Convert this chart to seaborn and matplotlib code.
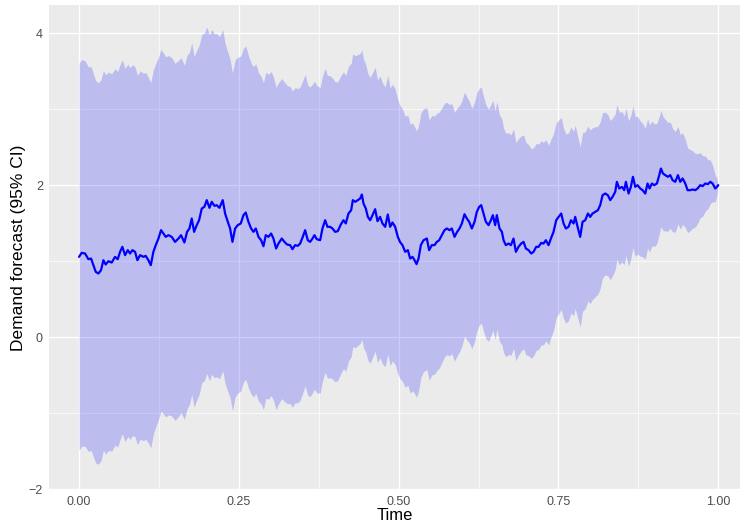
import numpy as np
import pandas as pd
import seaborn as sns
import matplotlib
matplotlib.use("Agg")
import matplotlib.pyplot as plt
from matplotlib.ticker import MultipleLocator, FixedLocator

# ---------------- data ----------------
time = [
    0.0000, 0.0042, 0.0094, 0.0146, 0.0188, 0.0224, 0.0261, 0.0303, 0.0344, 0.0381,
    0.0417, 0.0459, 0.0511, 0.0563, 0.0605, 0.0642, 0.0678, 0.0720, 0.0762, 0.0798,
    0.0835, 0.0876, 0.0913, 0.0955, 0.1007, 0.1043, 0.1085, 0.1122, 0.1163, 0.1200,
    0.1242, 0.1283, 0.1320, 0.1356, 0.1398, 0.1450, 0.1502, 0.1555, 0.1596, 0.1648,
    0.1690, 0.1727, 0.1763, 0.1800, 0.1841, 0.1878, 0.1920, 0.1961, 0.1998, 0.2040,
    0.2076, 0.2118, 0.2154, 0.2196, 0.2248, 0.2285, 0.2327, 0.2363, 0.2400, 0.2441,
    0.2483, 0.2530, 0.2572, 0.2608, 0.2650, 0.2692, 0.2728, 0.2765, 0.2807, 0.2848,
    0.2885, 0.2921, 0.2963, 0.3005, 0.3041, 0.3083, 0.3119, 0.3172, 0.3213, 0.3255,
    0.3302, 0.3339, 0.3380, 0.3422, 0.3459, 0.3500, 0.3537, 0.3578, 0.3615, 0.3652,
    0.3683, 0.3719, 0.3772, 0.3808, 0.3850, 0.3886, 0.3928, 0.3965, 0.4006, 0.4048,
    0.4095, 0.4137, 0.4173, 0.4215, 0.4257, 0.4283, 0.4319, 0.4361, 0.4398, 0.4424,
    0.4450, 0.4486, 0.4518, 0.4554, 0.4591, 0.4632, 0.4669, 0.4710, 0.4747, 0.4789,
    0.4830, 0.4867, 0.4903, 0.4945, 0.4987, 0.5023, 0.5060, 0.5102, 0.5144, 0.5180,
    0.5217, 0.5249, 0.5280, 0.5311, 0.5347, 0.5389, 0.5441, 0.5477, 0.5519, 0.5561,
    0.5597, 0.5634, 0.5676, 0.5717, 0.5754, 0.5796, 0.5832, 0.5874, 0.5915, 0.5952,
    0.5989, 0.6030, 0.6067, 0.6103, 0.6145, 0.6187, 0.6223, 0.6260, 0.6291, 0.6327,
    0.6364, 0.6406, 0.6443, 0.6474, 0.6510, 0.6536, 0.6578, 0.6615, 0.6641, 0.6677,
    0.6719, 0.6756, 0.6797, 0.6834, 0.6875, 0.6917, 0.6954, 0.6990, 0.7032, 0.7074,
    0.7110, 0.7152, 0.7189, 0.7230, 0.7267, 0.7303, 0.7345, 0.7382, 0.7423, 0.7465,
    0.7502, 0.7543, 0.7580, 0.7616, 0.7658, 0.7695, 0.7736, 0.7762, 0.7799, 0.7840,
    0.7877, 0.7919, 0.7961, 0.7997, 0.8033, 0.8075, 0.8117, 0.8153, 0.8190, 0.8232,
    0.8273, 0.8310, 0.8346, 0.8388, 0.8414, 0.8451, 0.8493, 0.8529, 0.8555, 0.8597,
    0.8633, 0.8665, 0.8701, 0.8737, 0.8779, 0.8816, 0.8858, 0.8894, 0.8925, 0.8962,
    0.8998, 0.9040, 0.9077, 0.9103, 0.9134, 0.9171, 0.9212, 0.9249, 0.9285, 0.9327,
    0.9369, 0.9405, 0.9442, 0.9484, 0.9520, 0.9562, 0.9598, 0.9640, 0.9676, 0.9718,
    0.9755, 0.9797, 0.9838, 0.9875, 0.9911, 0.9953, 0.9979, 1.0000,
]

demand_mean = [
    1.057, 1.110, 1.101, 1.026, 1.035, 0.947, 0.860, 0.838, 0.882, 1.013,
    0.956, 1.000, 0.982, 1.057, 1.026, 1.123, 1.189, 1.079, 1.145, 1.101,
    1.145, 1.123, 1.013, 1.079, 1.057, 1.070, 1.013, 0.947, 1.123, 1.211,
    1.298, 1.408, 1.364, 1.320, 1.342, 1.320, 1.254, 1.298, 1.342, 1.246,
    1.386, 1.430, 1.561, 1.386, 1.474, 1.539, 1.693, 1.715, 1.803, 1.702,
    1.781, 1.728, 1.737, 1.702, 1.803, 1.627, 1.518, 1.430, 1.254, 1.430,
    1.474, 1.496, 1.605, 1.640, 1.518, 1.430, 1.386, 1.430, 1.320, 1.276,
    1.197, 1.342, 1.320, 1.364, 1.298, 1.167, 1.232, 1.298, 1.254, 1.219,
    1.211, 1.158, 1.211, 1.202, 1.232, 1.320, 1.408, 1.276, 1.254, 1.298,
    1.342, 1.289, 1.276, 1.430, 1.539, 1.452, 1.452, 1.430, 1.386, 1.395,
    1.482, 1.539, 1.496, 1.627, 1.671, 1.803, 1.781, 1.803, 1.825, 1.877,
    1.759, 1.693, 1.583, 1.539, 1.605, 1.684, 1.526, 1.583, 1.496, 1.452,
    1.614, 1.452, 1.509, 1.452, 1.320, 1.250, 1.211, 1.123, 1.145, 1.035,
    1.057, 1.013, 0.961, 1.035, 1.211, 1.276, 1.298, 1.145, 1.211, 1.211,
    1.254, 1.276, 1.342, 1.408, 1.430, 1.408, 1.430, 1.320, 1.386, 1.430,
    1.496, 1.618, 1.561, 1.518, 1.430, 1.518, 1.649, 1.715, 1.737, 1.627,
    1.518, 1.474, 1.539, 1.605, 1.474, 1.605, 1.430, 1.386, 1.276, 1.211,
    1.232, 1.211, 1.298, 1.123, 1.189, 1.232, 1.254, 1.167, 1.145, 1.101,
    1.123, 1.189, 1.189, 1.241, 1.232, 1.276, 1.211, 1.298, 1.386, 1.539,
    1.583, 1.627, 1.496, 1.430, 1.452, 1.539, 1.496, 1.583, 1.452, 1.320,
    1.518, 1.539, 1.627, 1.583, 1.627, 1.649, 1.671, 1.737, 1.868, 1.890,
    1.868, 1.803, 1.846, 1.912, 2.044, 1.956, 1.978, 1.934, 2.044, 1.890,
    1.978, 2.110, 1.978, 2.000, 1.956, 1.934, 1.890, 2.022, 1.956, 2.022,
    2.000, 2.022, 2.132, 2.219, 2.154, 2.132, 2.110, 2.132, 2.066, 2.044,
    2.132, 2.044, 2.088, 2.022, 1.934, 1.934, 1.943, 1.934, 1.956, 2.000,
    1.987, 2.022, 2.013, 2.044, 2.022, 1.956, 1.978, 2.000,
]

sigma_read = 1.30
z95 = 1.96

x_ticks = [0.00, 0.25, 0.50, 0.75, 1.00]
x_tick_labels = ["0.00", "0.25", "0.50", "0.75", "1.00"]
y_ticks = [-2, 0, 2, 4]
y_tick_labels = ["\u22122", "0", "2", "4"]

df = pd.DataFrame({"Time": time, "mean": demand_mean})
se = sigma_read * np.sqrt(np.clip(1.0 - df["Time"].to_numpy(), 0, None))
df["lower"] = df["mean"] - z95 * se
df["upper"] = df["mean"] + z95 * se

# ---------------- style ----------------
sns.set_theme(style="darkgrid")
plt.rcParams["font.family"] = ["Liberation Sans", "DejaVu Sans"]

fig = plt.figure(figsize=(7.40, 5.22), dpi=100)
ax = fig.add_axes([49 / 740, 32 / 522, 691 / 740, 485 / 522])
ax.set_facecolor("#EBEBEB")
ax.set_axisbelow(True)

ax.fill_between(df["Time"], df["lower"], df["upper"], color="blue", alpha=0.2,
                linewidth=0)
sns.lineplot(data=df, x="Time", y="mean", ax=ax, color="blue", linewidth=1.6,
             estimator=None, sort=False)

ax.set_xlim(-0.047, 1.034)
ax.set_ylim(-2.01, 4.37)

ax.xaxis.set_major_locator(FixedLocator(x_ticks))
ax.set_xticklabels(x_tick_labels)
ax.yaxis.set_major_locator(FixedLocator(y_ticks))
ax.set_yticklabels(y_tick_labels)
ax.xaxis.set_minor_locator(MultipleLocator(0.125))
ax.yaxis.set_minor_locator(MultipleLocator(1))

ax.grid(which="major", color="white", linewidth=1.0)
ax.grid(which="minor", color="white", linewidth=0.5)

for s in ax.spines.values():
    s.set_visible(False)

ax.tick_params(axis="both", which="major", length=2.9, width=0.8, color="#333333",
               labelcolor="#4D4D4D", labelsize=9, pad=1.5)
ax.tick_params(axis="both", which="minor", length=0)

ax.set_xlabel("Time", fontsize=12, color="black")
ax.set_ylabel("Demand forecast (95% CI)", fontsize=12.5, color="black")
ax.xaxis.set_label_coords(0.5, -0.053)
ax.yaxis.set_label_coords(-0.044, 0.5)
ax.xaxis.label.set_va("center")
ax.yaxis.label.set_va("center")

fig.savefig("out.png", dpi=100)
